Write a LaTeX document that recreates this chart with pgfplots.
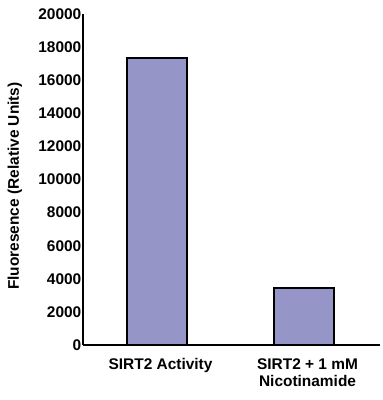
\documentclass[border=0pt]{standalone}
\usepackage{pgfplots}
\pgfplotsset{compat=1.18}
\usepackage{fontspec}
\setmainfont{Liberation Sans}
\definecolor{barfill}{HTML}{9595C8}
\begin{document}
\begin{tikzpicture}
\begin{axis}[
  scale only axis, width=297bp, height=331bp,
  xmin=-0.5, xmax=1.52, ymin=0, ymax=20000,
  axis x line=bottom, axis y line=left,
  axis line style={line width=2.4bp,-},
  ytick={0,2000,...,20000}, xtick={0,1},
  xticklabels={SIRT2 Activity, SIRT2 + 1 mM\\Nicotinamide},
  major tick length=0pt,
  scaled y ticks=false,
  /pgf/number format/assume math mode=true,
  /pgf/number format/1000 sep={},
  yticklabel style={font=\fontsize{15.5}{18}\selectfont\bfseries, inner sep=1.5bp},
  xticklabel style={font=\fontsize{15.5}{17.5}\selectfont\bfseries, align=center, yshift=-10bp, xshift=4bp},
  ylabel={Fluoresence (Relative Units)},
  ylabel style={font=\fontsize{15.5}{18}\selectfont\bfseries, at={(axis description cs:-0.229,0.48)}, anchor=center},
  ybar, bar width=60bp,
]
\addplot[fill=barfill, draw=black, line width=2bp] coordinates {(0,17350) (1,3460)};
\end{axis}
\path (current axis.south west) +(-83bp,-55bp) coordinate (a);
\path (current axis.north east) +(3bp,14bp) coordinate (b);
\pgfresetboundingbox
\path[use as bounding box] (a) rectangle (b);
\end{tikzpicture}
\end{document}
